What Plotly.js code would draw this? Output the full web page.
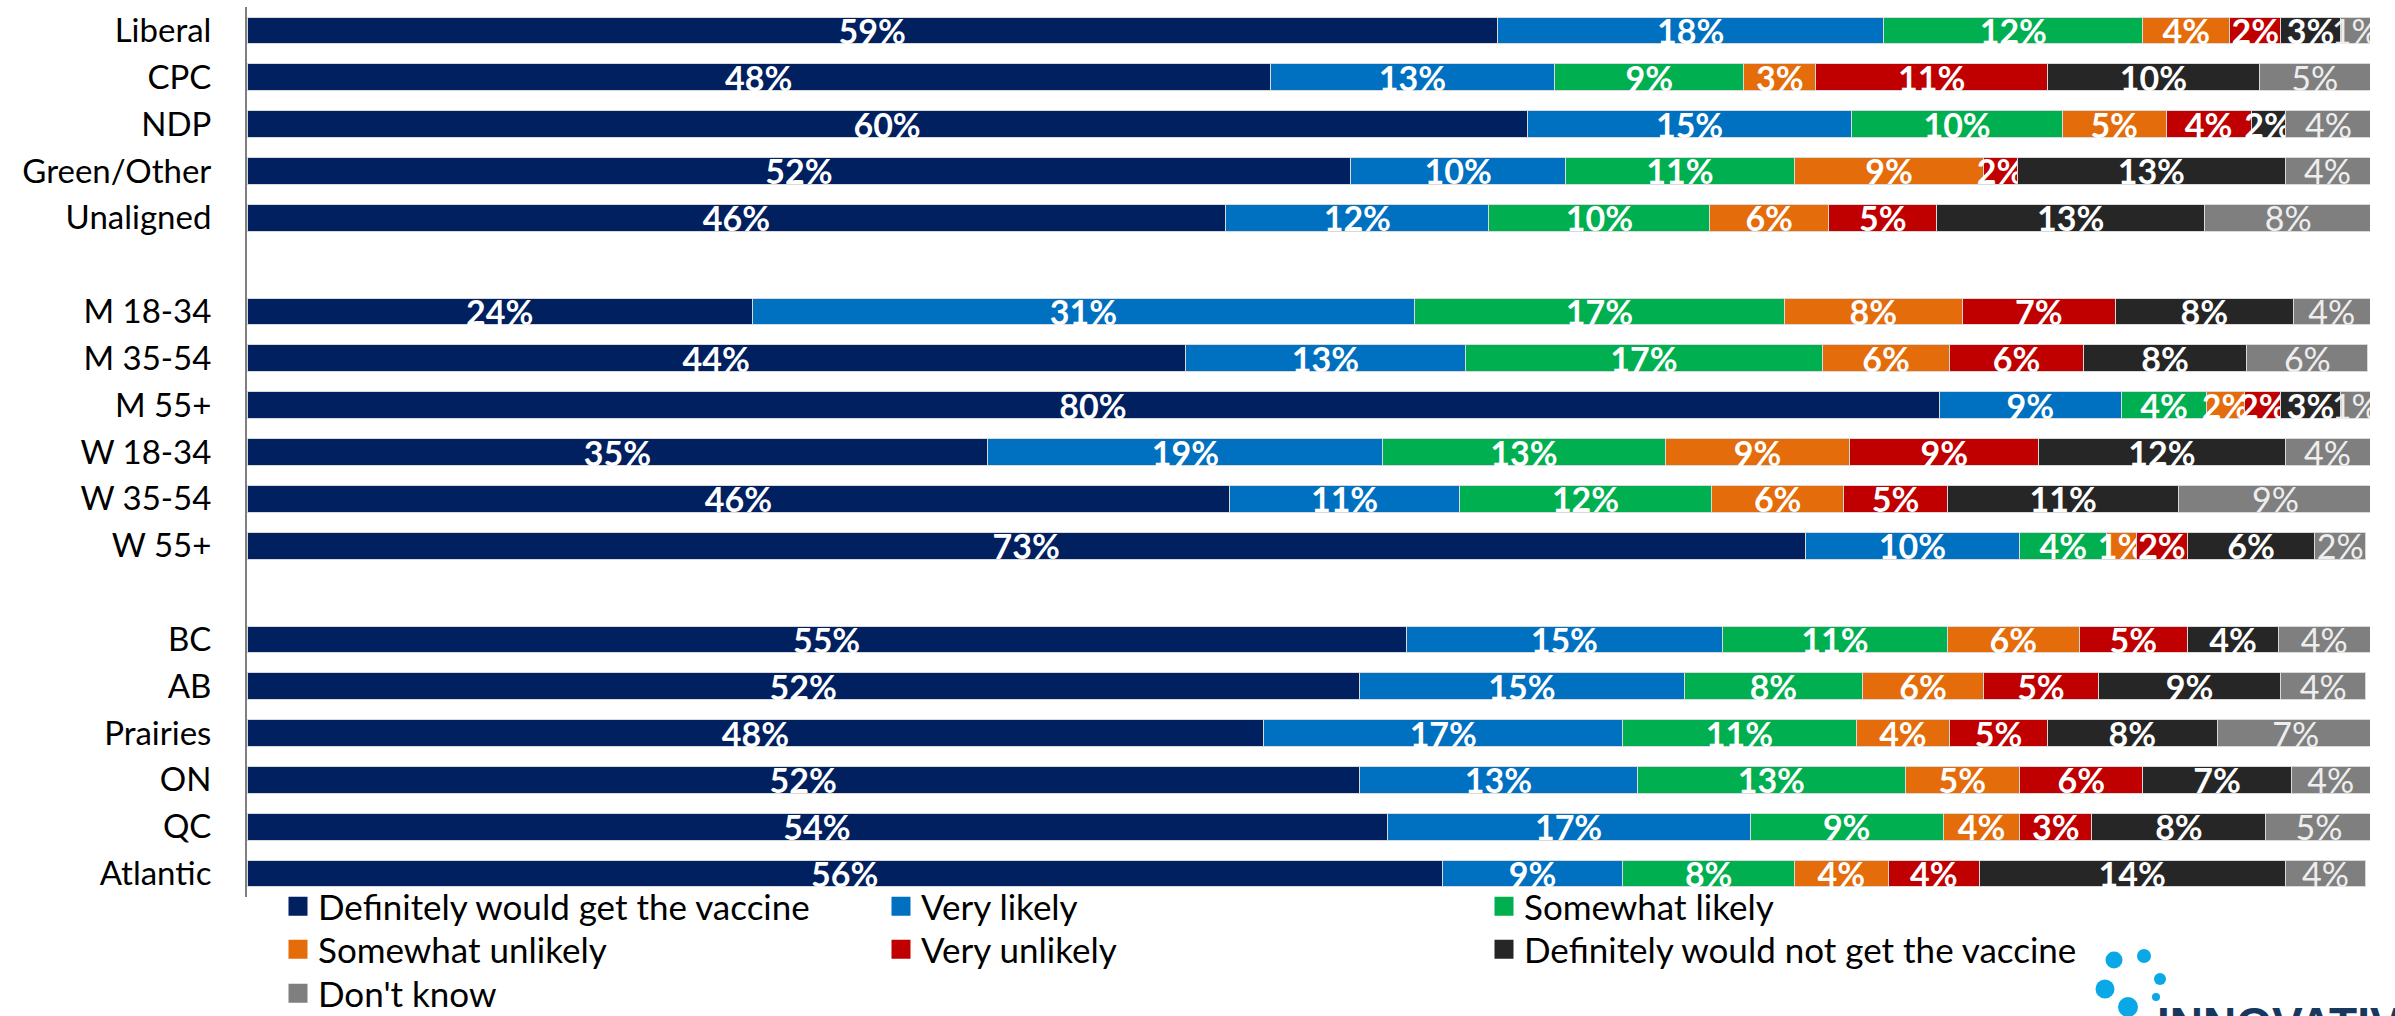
<!DOCTYPE html>
<html>
<head>
<meta charset="utf-8">
<script src="https://cdn.plot.ly/plotly-3.0.1.min.js"></script>
<style>
  html, body { margin: 0; padding: 0; background: #ffffff; }
  #chart { width: 2395px; height: 1016px; }
</style>
</head>
<body>
<div id="chart"></div>
<script>
// ---- Data (percent of respondents) ----
const partyCats = ["Liberal", "CPC", "NDP", "Green/Other", "Unaligned"];
const demoCats = ["M 18-34", "M 35-54", "M 55+", "W 18-34", "W 35-54", "W 55+"];
const regionCats = ["BC", "AB", "Prairies", "ON", "QC", "Atlantic"];

const seriesNames = [
  "Definitely would get the vaccine",
  "Very likely",
  "Somewhat likely",
  "Somewhat unlikely",
  "Very unlikely",
  "Definitely would not get the vaccine",
  "Don't know"
];

// values in the order: parties, demographics, regions
const definitely = [58.9, 48.2, 60.3, 52.0, 46.1,  23.8, 44.2, 79.7, 34.9, 46.3, 73.4,  54.6, 52.4, 47.9, 52.4, 53.7, 56.3];
const veryLikely = [18.2, 13.4, 15.3, 10.1, 12.4,  31.2, 13.2, 8.6, 18.6, 10.8, 10.1,  14.9, 15.3, 16.9, 13.1, 17.1, 8.5];
const somewhatLikely = [12.2, 8.9, 9.9, 10.8, 10.4,  17.4, 16.8, 4.0, 13.3, 11.9, 4.1,  10.6, 8.4, 11.0, 12.6, 9.1, 8.1];
const somewhatUnlikely = [4.1, 3.4, 4.9, 8.9, 5.6,  8.4, 6.0, 1.8, 8.7, 6.2, 1.4,  6.2, 5.7, 4.4, 5.4, 3.6, 4.4];
const veryUnlikely = [2.4, 10.9, 4.0, 1.6, 5.1,  7.2, 6.3, 1.7, 8.9, 4.9, 2.4,  5.1, 5.4, 4.6, 5.8, 3.4, 4.3];
const definitelyNot = [2.8, 10.0, 1.6, 12.6, 12.6,  8.4, 7.7, 2.8, 11.6, 10.9, 6.0,  4.3, 8.6, 8.0, 7.0, 8.2, 14.4];
const dontKnow = [1.4, 5.2, 4.1, 4.0, 7.9,  3.6, 5.7, 1.4, 4.0, 9.1, 2.4,  4.3, 4.0, 7.4, 3.7, 5.0, 3.8];

const colors = ["#002060", "#0070C0", "#00B050", "#E46C0A", "#C00000", "#262626", "#7F7F7F"];

// ---- Build category axis with blank spacer rows between groups ----
const spacerA = " ", spacerB = "  ";
const categories = [...partyCats, spacerA, ...demoCats, spacerB, ...regionCats];
function withSpacers(arr) {
  const p = arr.slice(0, partyCats.length);
  const d = arr.slice(partyCats.length, partyCats.length + demoCats.length);
  const r = arr.slice(partyCats.length + demoCats.length);
  return [...p, null, ...d, null, ...r];
}
const allSeries = [definitely, veryLikely, somewhatLikely, somewhatUnlikely, veryUnlikely, definitelyNot, dontKnow];

const FONT = "Lato, 'Open Sans', 'Liberation Sans', sans-serif";
const traces = [];
allSeries.forEach((vals, i) => {
  const isGray = i === 6;
  traces.push({
    type: "bar",
    orientation: "h",
    name: seriesNames[i],
    legendgroup: "g" + i,
    showlegend: false,
    y: categories,
    x: withSpacers(vals),
    marker: { color: colors[i], line: { color: "#d9d9d9", width: 1 } },
    texttemplate: "%{x:.0f}%",
    textposition: "inside",
    insidetextanchor: "middle",
    textangle: 0,
    constraintext: "none",
    insidetextfont: {
      family: FONT, size: 34,
      color: isGray ? "#eeeeee" : "#ffffff",
      weight: isGray ? 400 : 700
    },
    hoverinfo: "name+x"
  });
});
// legend proxies (bigger square swatches), one legend per legend row
const legendRowOf = ["legend", "legend", "legend", "legend2", "legend2", "legend2", "legend3"];
allSeries.forEach((vals, i) => {
  traces.push({
    type: "scatter",
    mode: "markers",
    name: seriesNames[i],
    legendgroup: "g" + i,
    legend: legendRowOf[i],
    x: [null], y: [null],
    marker: { symbol: "square", size: 16, color: colors[i], line: { color: colors[i], width: 3 } },
    hoverinfo: "skip"
  });
});

const W = 2395, H = 1016;
const mL = 247, mR = 25, mT = 7, mB = 119;
const pw = W - mL - mR, ph = H - mT - mB;
const px2x = X => (X - mL) / pw;
const py2y = Y => (H - mB - Y) / ph;
const logoDots = [[2114, 960, 8.5], [2144, 956, 7], [2160, 979, 6], [2105, 989, 9.5], [2156, 997, 4], [2128, 1007, 10]];
const shapes = logoDots.map(([cx, cy, r]) => ({
  type: "circle", xref: "paper", yref: "paper",
  x0: px2x(cx - r), x1: px2x(cx + r), y0: py2y(cy + r), y1: py2y(cy - r),
  fillcolor: "#0AA8E6", line: { width: 0 }
}));

function legendRow(topPx) {
  return {
    orientation: "h",
    xref: "container", yref: "container",
    x: 278 / W, xanchor: "left",
    y: (H - topPx) / H, yanchor: "top",
    entrywidth: 558, entrywidthmode: "pixels",
    font: { family: FONT, size: 35, color: "#000000" },
    bgcolor: "rgba(0,0,0,0)",
    traceorder: "normal",
    tracegroupgap: 0
  };
}

const layout = {
  width: W, height: H,
  margin: { l: mL, r: mR, t: mT, b: mB, pad: 0, autoexpand: false },
  paper_bgcolor: "#ffffff", plot_bgcolor: "#ffffff",
  barmode: "stack",
  bargap: 0.43,
  showlegend: true,
  font: { family: FONT, color: "#000000", size: 33 },
  xaxis: { range: [0, 100], visible: false, fixedrange: true },
  yaxis: {
    type: "category",
    categoryorder: "array",
    categoryarray: categories,
    autorange: "reversed",
    showline: true, linecolor: "#7f7f7f", linewidth: 2,
    ticks: "", showgrid: false, zeroline: false,
    tickfont: { family: FONT, size: 33, color: "#000000" },
    ticklabelstandoff: 27,
    fixedrange: true
  },
  legend: legendRow(877),
  legend2: legendRow(920),
  legend3: legendRow(964),
  shapes: shapes,
  annotations: [{
    xref: "paper", yref: "paper",
    x: px2x(2155), y: py2y(996),
    xanchor: "left", yanchor: "top",
    text: "INNOVATIVE", showarrow: false,
    font: { family: "'Liberation Sans', Arial, sans-serif", size: 46, color: "#17375E", weight: 700 }
  }]
};

Plotly.newPlot("chart", traces, layout, { displayModeBar: false, staticPlot: true });
</script>
</body>
</html>
